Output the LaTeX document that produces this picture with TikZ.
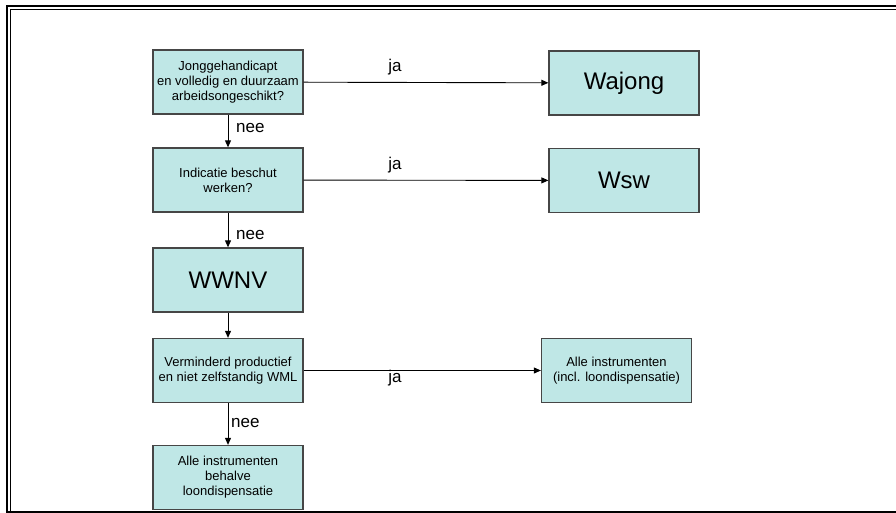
\documentclass[tikz,border=0pt]{standalone}
\usepackage{fontspec}
\setmainfont{Liberation Sans}
\usetikzlibrary{arrows.meta}
\definecolor{boxfill}{RGB}{191,231,230}
\definecolor{boxline}{RGB}{70,70,70}
\begin{document}
\begin{tikzpicture}[x=1pt,y=-1pt,
  box/.style={draw=boxline,line width=1.3pt,fill=boxfill,minimum width=150pt,minimum height=64pt,inner sep=2pt,align=center,font=\fontsize{13}{15}\selectfont},
  bigbox/.style={box,font=\fontsize{24}{28}\selectfont},
  conn/.style={draw=black,line width=0.9pt,-{Triangle[length=7pt,width=6pt]}},
  lbl/.style={font=\fontsize{17}{20}\selectfont,inner sep=0pt}]
\useasboundingbox (0,0) rectangle (896,513);
% frame
\draw[line width=2.5pt] (896,6) -- (7,6) -- (7,513);
\draw[line width=1.3pt] (896,9.8) -- (10.6,9.8) -- (10.6,513);
\draw[line width=1.5pt] (7,511.8) -- (896,511.8);
% boxes
\node[box] (q1) at (228,82) {Jonggehandicapt\\en volledig en duurzaam\\arbeidsongeschikt?};
\node[bigbox] (wajong) at (624,83) {Wajong};
\node[box] (q2) at (228,180) {Indicatie beschut\\werken?};
\node[bigbox] (wsw) at (624,180.5) {Wsw};
\node[bigbox] (wwnv) at (228,280) {WWNV};
\node[box] (q3) at (228,370.5) {Verminderd productief\\en niet zelfstandig WML};
\node[box] (alleincl) at (616.5,370.5) {Alle instrumenten\\(incl. loondispensatie)};
\node[box] (allebeh) at (228,477.5) {Alle instrumenten\\behalve\\loondispensatie};
% connectors
\draw[conn] (q1) -- (wajong);
\draw[conn] (q1) -- (q2);
\draw[conn] (q2) -- (wsw);
\draw[conn] (q2) -- (wwnv);
\draw[conn] (wwnv) -- (q3);
\draw[conn] (q3) -- (alleincl);
\draw[conn] (q3) -- (allebeh);
% labels
\node[lbl] (ja1) at (395,67) {ja};
\node[lbl] (ja2) at (395,165) {ja};
\node[lbl] (ja3) at (395,378) {ja};
\node[lbl,anchor=west] (nee1) at (236,128) {nee};
\node[lbl,anchor=west] (nee2) at (236,235) {nee};
\node[lbl,anchor=west] (nee3) at (231,423) {nee};
\end{tikzpicture}
\end{document}
